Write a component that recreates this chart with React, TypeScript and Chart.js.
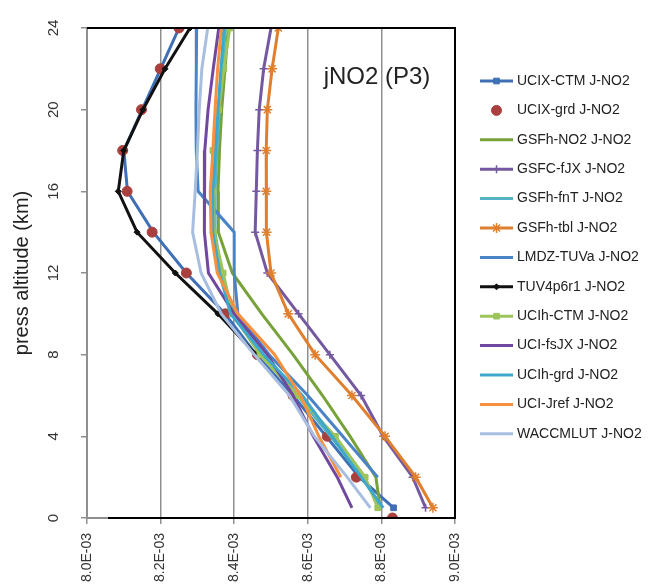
import React, { useEffect, useRef } from 'react';
import { Chart, registerables } from 'chart.js';
import { drawPoint } from 'chart.js/helpers';

Chart.register(...registerables);

// Altitudes (km)
const ALTITUDES = [24, 22, 20, 18, 16, 14, 12, 10, 8, 6, 4, 2, 0.5];
const GRD_ALTITUDES = [24, 22, 20, 18, 16, 14, 12, 10, 8, 6, 4, 2, 0];
const TUV_ALTITUDES = [24, 22, 20, 18, 16, 14, 12, 10, 8];
const LMDZ_ALTITUDES = [24, 22, 20, 18, 16, 14, 12, 10, 8, 6, 4, 2];
const JREF_ALTITUDES = [24, 22, 20, 18, 16, 14, 12, 10, 8, 6, 4, 2];

// J-NO2 values in units of 1E-03 (1/s)
const UCIX_CTM = [8.25, 8.2, 8.15, 8.1, 8.11, 8.18, 8.27, 8.375, 8.46, 8.56, 8.65, 8.74, 8.833];
const UCIX_GRD = [8.25, 8.199, 8.148, 8.097, 8.109, 8.177, 8.27, 8.376, 8.463, 8.56, 8.653, 8.732, 8.83];
const GSFH_NO2 = [8.384, 8.375, 8.366, 8.36, 8.356, 8.357, 8.395, 8.475, 8.56, 8.64, 8.715, 8.785, 8.797];
const GSFC_FJX = [8.5, 8.48, 8.468, 8.463, 8.46, 8.457, 8.49, 8.575, 8.66, 8.745, 8.805, 8.885, 8.92];
const GSFH_FNT = [8.376, 8.368, 8.36, 8.353, 8.348, 8.348, 8.365, 8.4, 8.478, 8.572, 8.662, 8.748, 8.8];
const GSFH_TBL = [8.52, 8.503, 8.49, 8.487, 8.487, 8.488, 8.5, 8.547, 8.62, 8.72, 8.81, 8.893, 8.94];
const LMDZ_TUVA = [8.298, 8.297, 8.296, 8.297, 8.302, 8.4, 8.4, 8.41, 8.495, 8.6, 8.695, 8.79];
const TUV4P6R1 = [8.28, 8.212, 8.152, 8.1, 8.085, 8.136, 8.24, 8.356, 8.46];
const UCIH_CTM = [8.388, 8.372, 8.358, 8.342, 8.343, 8.345, 8.37, 8.395, 8.47, 8.572, 8.675, 8.756, 8.79];
const UCI_FSJX = [8.358, 8.343, 8.329, 8.32, 8.318, 8.32, 8.33, 8.4, 8.49, 8.56, 8.615, 8.68, 8.72];
const UCIH_GRD = [8.372, 8.364, 8.356, 8.349, 8.342, 8.342, 8.36, 8.39, 8.48, 8.585, 8.666, 8.745, 8.805];
const UCI_JREF = [8.365, 8.355, 8.348, 8.342, 8.335, 8.337, 8.354, 8.41, 8.51, 8.58, 8.63, 8.69];
const WACCMLUT = [8.328, 8.312, 8.305, 8.3, 8.294, 8.287, 8.31, 8.365, 8.455, 8.55, 8.618, 8.707, 8.77];

const X_MIN = 8.0;
const X_MAX = 9.0;
const X_STEP = 0.2;
const Y_MIN = 0;
const Y_MAX = 24;
const Y_STEP = 4;
const Y_TITLE = 'press altitude (km)';
const PANEL_LABEL = 'jNO2 (P3)';

const FONT = '"Liberation Sans", Arial, sans-serif';

type SeriesDef = {
  label: string;
  values: number[];
  alts: number[];
  color: string;
  line: boolean;
  pointStyle: any;
  radius: number;
};

const SERIES: SeriesDef[] = [
  { label: 'UCIX-CTM J-NO2', values: UCIX_CTM, alts: ALTITUDES, color: '#3F6FB4', line: true, pointStyle: 'rect', radius: 4 },
  { label: 'UCIX-grd J-NO2', values: UCIX_GRD, alts: GRD_ALTITUDES, color: '#A9403E', line: false, pointStyle: 'circle', radius: 5 },
  { label: 'GSFh-NO2 J-NO2', values: GSFH_NO2, alts: ALTITUDES, color: '#77A23A', line: true, pointStyle: false, radius: 0 },
  { label: 'GSFC-fJX J-NO2', values: GSFC_FJX, alts: ALTITUDES, color: '#7459A0', line: true, pointStyle: 'cross', radius: 4 },
  { label: 'GSFh-fnT J-NO2', values: GSFH_FNT, alts: ALTITUDES, color: '#55B3C2', line: true, pointStyle: false, radius: 0 },
  { label: 'GSFh-tbl J-NO2', values: GSFH_TBL, alts: ALTITUDES, color: '#E07F2E', line: true, pointStyle: 'star', radius: 5 },
  { label: 'LMDZ-TUVa J-NO2', values: LMDZ_TUVA, alts: LMDZ_ALTITUDES, color: '#4A83C6', line: true, pointStyle: false, radius: 0 },
  { label: 'TUV4p6r1 J-NO2', values: TUV4P6R1, alts: TUV_ALTITUDES, color: '#111111', line: true, pointStyle: 'rectRot', radius: 3 },
  { label: 'UCIh-CTM J-NO2', values: UCIH_CTM, alts: ALTITUDES, color: '#9CC45A', line: true, pointStyle: 'rect', radius: 4 },
  { label: 'UCI-fsJX J-NO2', values: UCI_FSJX, alts: ALTITUDES, color: '#7048A0', line: true, pointStyle: false, radius: 0 },
  { label: 'UCIh-grd J-NO2', values: UCIH_GRD, alts: ALTITUDES, color: '#3EA8CC', line: true, pointStyle: false, radius: 0 },
  { label: 'UCI-Jref J-NO2', values: UCI_JREF, alts: JREF_ALTITUDES, color: '#F7913F', line: true, pointStyle: false, radius: 0 },
  { label: 'WACCMLUT J-NO2', values: WACCMLUT, alts: ALTITUDES, color: '#A8BEE0', line: true, pointStyle: false, radius: 0 },
];

const frameAndLegendPlugin = {
  id: 'frameAndLegend',
  afterDatasetsDraw(chart: any) {
    const { ctx, chartArea } = chart;
    const { left, right, top, bottom } = chartArea;
    ctx.save();
    // plot border (black top / right / bottom)
    ctx.strokeStyle = '#000';
    ctx.lineWidth = 2;
    ctx.beginPath();
    ctx.moveTo(left, top);
    ctx.lineTo(right, top);
    ctx.lineTo(right, bottom);
    ctx.lineTo(left + 21, bottom);
    ctx.stroke();
    // panel label
    ctx.fillStyle = '#222';
    ctx.font = `24px ${FONT}`;
    ctx.textAlign = 'center';
    ctx.textBaseline = 'middle';
    ctx.fillText(PANEL_LABEL, left + 290, top + 49);
    ctx.restore();
  },
  afterDraw(chart: any) {
    const { ctx, chartArea } = chart;
    const x0 = chartArea.right + 25;
    const x1 = chartArea.right + 58;
    const tx = chartArea.right + 62;
    const y0 = chartArea.top + 53;
    const step = 29.4;
    ctx.save();
    chart.data.datasets.forEach((ds: any, i: number) => {
      const y = y0 + i * step;
      const s = SERIES[i];
      if (s.line) {
        ctx.strokeStyle = s.color;
        ctx.lineWidth = 3;
        ctx.beginPath();
        ctx.moveTo(x0, y);
        ctx.lineTo(x1, y);
        ctx.stroke();
      }
      if (s.pointStyle) {
        ctx.fillStyle = s.color;
        ctx.strokeStyle = s.color;
        ctx.lineWidth = s.pointStyle === 'cross' || s.pointStyle === 'star' ? 1.5 : 1;
        drawPoint(ctx, { pointStyle: s.pointStyle, radius: s.radius, rotation: 0, borderWidth: ctx.lineWidth }, (x0 + x1) / 2, y);
      }
      ctx.fillStyle = '#222';
      ctx.font = `14px ${FONT}`;
      ctx.textAlign = 'left';
      ctx.textBaseline = 'middle';
      ctx.fillText(ds.label, tx, y);
    });
    ctx.restore();
  },
};

export default function App() {
  const ref = useRef<HTMLCanvasElement | null>(null);

  useEffect(() => {
    if (!ref.current) return;
    const n = SERIES.length;
    const datasets = SERIES.map((s, i) => ({
      label: s.label,
      data: s.values.map((v, k) => ({ x: v, y: s.alts[k] })),
      showLine: s.line,
      borderColor: s.color,
      backgroundColor: s.color,
      borderWidth: 3,
      pointStyle: s.pointStyle,
      pointRadius: s.radius,
      pointHoverRadius: s.radius,
      pointBorderWidth: s.pointStyle === 'cross' || s.pointStyle === 'star' ? 1.5 : 1,
      pointBackgroundColor: s.color,
      pointBorderColor: s.color,
      tension: 0,
      order: n - i,
    }));

    const chart = new Chart(ref.current, {
      type: 'scatter',
      data: { datasets },
      options: {
        responsive: false,
        animation: false,
        layout: { padding: { top: 20, right: 196, left: 0, bottom: 0 } },
        plugins: {
          legend: { display: false },
          tooltip: { enabled: false },
        },
        scales: {
          x: {
            type: 'linear',
            min: X_MIN,
            max: X_MAX,
            ticks: {
              stepSize: X_STEP,
              minRotation: 90,
              maxRotation: 90,
              padding: 9,
              color: '#333',
              font: { family: FONT, size: 14 },
              callback: (v: any) => `${Number(v).toFixed(1)}E-03`,
            },
            grid: {
              color: '#8f8f8f',
              lineWidth: 1.5,
              tickLength: 6,
              drawTicks: true,
            },
            border: { display: true, color: '#8f8f8f', width: 2 },
            afterFit: (scale: any) => {
              scale.height = 70;
            },
          },
          y: {
            type: 'linear',
            min: Y_MIN,
            max: Y_MAX,
            ticks: {
              stepSize: Y_STEP,
              minRotation: 90,
              maxRotation: 90,
              crossAlign: 'center',
              padding: 19,
              color: '#333',
              font: { family: FONT, size: 15 },
            },
            grid: {
              drawOnChartArea: false,
              drawTicks: true,
              tickLength: 6,
              color: '#8f8f8f',
              lineWidth: 1.5,
            },
            border: { display: true, color: '#8f8f8f', width: 2 },
            title: {
              display: true,
              text: Y_TITLE,
              color: '#222',
              font: { family: FONT, size: 20 },
              padding: { top: 10, bottom: 0 },
            },
            afterFit: (scale: any) => {
              scale.width = 87;
            },
          },
        },
      },
      plugins: [frameAndLegendPlugin],
    });
    return () => chart.destroy();
  }, []);

  return (
    <div style={{ position: 'absolute', left: 0, top: 0, width: 651, height: 588, background: '#fff' }}>
      <canvas ref={ref} width={651} height={588} style={{ display: 'block' }} />
    </div>
  );
}
